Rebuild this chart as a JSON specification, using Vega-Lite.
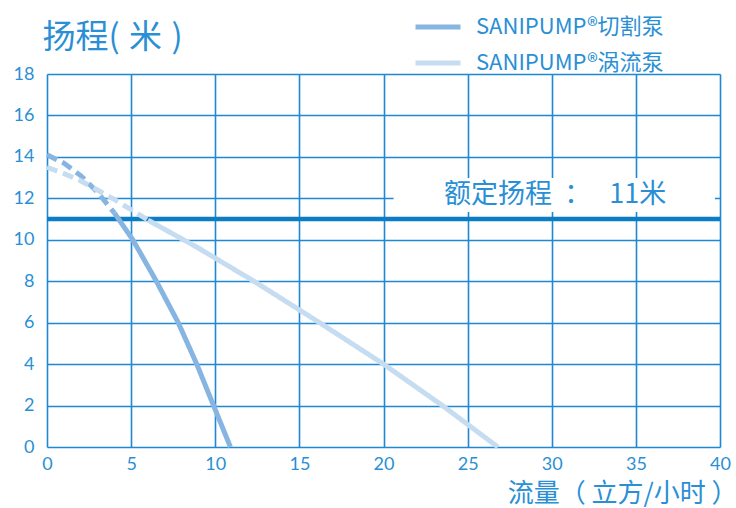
{
  "$schema": "https://vega.github.io/schema/vega-lite/v6.json",
  "width": 673,
  "height": 373,
  "autosize": "none",
  "padding": {"left": 47, "top": 74, "right": 16, "bottom": 61},
  "background": "white",
  "config": {
    "view": {"stroke": null},
    "font": "Lato",
    "axis": {
      "grid": true,
      "gridColor": "#1f88d2",
      "gridWidth": 1.6,
      "gridOpacity": 1,
      "domain": false,
      "ticks": false,
      "labelFlush": false,
      "labelColor": "#2a8fd4",
      "labelFont": "Lato",
      "labelFontSize": 18,
      "titleColor": "#2a8fd4",
      "titleFont": "Noto Sans CJK SC",
      "titleFontWeight": "normal"
    }
  },
  "datasets": {
    "curves": [
      {"pump": "SANIPUMP®切割泵", "seg": "dashed", "q": 0, "h": 14.1},
      {"pump": "SANIPUMP®切割泵", "seg": "dashed", "q": 1, "h": 13.7},
      {"pump": "SANIPUMP®切割泵", "seg": "dashed", "q": 2, "h": 13.1},
      {"pump": "SANIPUMP®切割泵", "seg": "dashed", "q": 3, "h": 12.3},
      {"pump": "SANIPUMP®切割泵", "seg": "dashed", "q": 4, "h": 11.3},
      {"pump": "SANIPUMP®切割泵", "seg": "solid", "q": 4, "h": 11.3},
      {"pump": "SANIPUMP®切割泵", "seg": "solid", "q": 5.1, "h": 10},
      {"pump": "SANIPUMP®切割泵", "seg": "solid", "q": 6.5, "h": 8},
      {"pump": "SANIPUMP®切割泵", "seg": "solid", "q": 7.8, "h": 6},
      {"pump": "SANIPUMP®切割泵", "seg": "solid", "q": 8.9, "h": 4},
      {"pump": "SANIPUMP®切割泵", "seg": "solid", "q": 9.9, "h": 2},
      {"pump": "SANIPUMP®切割泵", "seg": "solid", "q": 10.9, "h": 0},
      {"pump": "SANIPUMP®涡流泵", "seg": "dashed", "q": 0, "h": 13.5},
      {"pump": "SANIPUMP®涡流泵", "seg": "dashed", "q": 1, "h": 13.2},
      {"pump": "SANIPUMP®涡流泵", "seg": "dashed", "q": 2, "h": 12.85},
      {"pump": "SANIPUMP®涡流泵", "seg": "dashed", "q": 3, "h": 12.4},
      {"pump": "SANIPUMP®涡流泵", "seg": "dashed", "q": 4, "h": 11.95},
      {"pump": "SANIPUMP®涡流泵", "seg": "dashed", "q": 5, "h": 11.45},
      {"pump": "SANIPUMP®涡流泵", "seg": "dashed", "q": 6, "h": 10.95},
      {"pump": "SANIPUMP®涡流泵", "seg": "solid", "q": 6, "h": 10.95},
      {"pump": "SANIPUMP®涡流泵", "seg": "solid", "q": 9, "h": 9.6},
      {"pump": "SANIPUMP®涡流泵", "seg": "solid", "q": 12.3, "h": 8.0},
      {"pump": "SANIPUMP®涡流泵", "seg": "solid", "q": 16.2, "h": 6},
      {"pump": "SANIPUMP®涡流泵", "seg": "solid", "q": 20, "h": 4},
      {"pump": "SANIPUMP®涡流泵", "seg": "solid", "q": 23.5, "h": 2},
      {"pump": "SANIPUMP®涡流泵", "seg": "solid", "q": 26.8, "h": 0}
    ],
    "box": [{"x1": 20.6, "x2": 39.7, "y1": 11.34, "y2": 12.98}],
    "rated": [{"h": 11, "label": "额定扬程\u00a0\u00a0：\u00a0\u00a0\u00a011米", "q": 23.6, "ty": 12.15}]
  },
  "layer": [
    {
      "data": {"name": "box"},
      "mark": {"type": "rect", "fill": "white"},
      "encoding": {
        "x": {"field": "x1", "type": "quantitative", "scale": {"domain": [0, 40], "nice": false},
          "axis": {"values": [0, 5, 10, 15, 20, 25, 30, 35, 40], "labelPadding": 8, "title": "流量（ 立方/小时 ）", "titleFontSize": 26, "titleAlign": "right", "titleAnchor": "end", "titleX": 690, "titleY": 54, "titleBaseline": "alphabetic"}},
        "x2": {"field": "x2"},
        "y": {"field": "y1", "type": "quantitative", "scale": {"domain": [0, 18], "nice": false},
          "axis": {"values": [0, 2, 4, 6, 8, 10, 12, 14, 16, 18], "labelPadding": 13, "title": "扬程(\u00a0\u200a米\u00a0\u200a)", "titleFontSize": 33, "titleAngle": 0, "titleAlign": "left", "titleAnchor": "start", "titleX": -5, "titleY": -27, "titleBaseline": "alphabetic"}},
        "y2": {"field": "y2"}
      }
    },
    {
      "data": {"name": "rated"},
      "mark": {"type": "rule", "color": "#0b7cc6", "strokeWidth": 4.5},
      "encoding": {"y": {"field": "h", "type": "quantitative"}}
    },
    {
      "data": {"name": "curves"},
      "mark": {"type": "line", "strokeWidth": 5, "strokeCap": "butt"},
      "encoding": {
        "x": {"field": "q", "type": "quantitative"},
        "y": {"field": "h", "type": "quantitative"},
        "order": {"field": "q"},
        "color": {
          "field": "pump", "type": "nominal",
          "scale": {"domain": ["SANIPUMP®切割泵", "SANIPUMP®涡流泵"], "range": ["#86b5e2", "#c5dcf1"]},
          "legend": {
            "title": null, "orient": "none", "legendX": 366, "legendY": -72,
            "symbolType": "stroke", "symbolSize": 2025, "symbolStrokeWidth": 5,
            "labelFont": "Noto Sans CJK SC", "labelFontSize": 22, "labelColor": "#2a8fd4",
            "labelOffset": 13, "rowPadding": -4, "labelLimit": 400
          }
        },
        "strokeDash": {
          "field": "seg", "type": "nominal",
          "scale": {"domain": ["dashed", "solid"], "range": [[11, 6], [1, 0]]},
          "legend": null
        },
        "detail": {"field": "seg"}
      }
    },
    {
      "data": {"name": "rated"},
      "mark": {"type": "text", "align": "left", "baseline": "middle", "font": "Noto Sans CJK SC", "fontSize": 27, "color": "#2a8fd4"},
      "encoding": {
        "x": {"field": "q", "type": "quantitative"},
        "y": {"field": "ty", "type": "quantitative"},
        "text": {"field": "label"}
      }
    }
  ]
}
